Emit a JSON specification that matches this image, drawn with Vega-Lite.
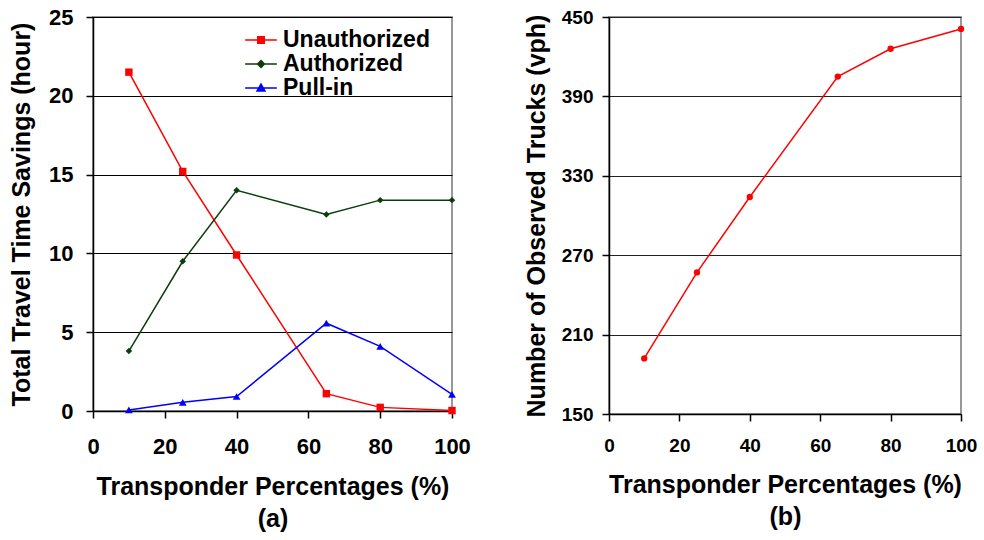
{
  "$schema": "https://vega.github.io/schema/vega-lite/v6.json",
  "autosize": {"type": "pad"},
  "padding": {"left": 8, "top": 5, "right": 5, "bottom": 5},
  "spacing": 51,
  "background": "white",
  "config": {
    "font": "Liberation Sans",
    "view": {"stroke": "#777777", "strokeWidth": 1.5},
    "axis": {
      "labelFont": "Liberation Sans", "labelFontWeight": "bold", "labelColor": "black",
      "titleFont": "Liberation Sans", "titleFontWeight": "bold", "titleColor": "black",
      "domainColor": "black", "domainWidth": 1.5, "tickColor": "black", "tickWidth": 1.5,
      "tickSize": 7, "gridColor": "black", "gridWidth": 1.2, "labelFlush": false, "labelOverlap": false
    },
    "legend": {"labelFont": "Liberation Sans", "labelFontWeight": "bold", "labelColor": "black"}
  },
  "datasets": {
    "a": [
      {"pct": 10, "series": "Unauthorized", "value": 21.5},
      {"pct": 25, "series": "Unauthorized", "value": 15.2},
      {"pct": 40, "series": "Unauthorized", "value": 9.9},
      {"pct": 65, "series": "Unauthorized", "value": 1.1},
      {"pct": 80, "series": "Unauthorized", "value": 0.23},
      {"pct": 100, "series": "Unauthorized", "value": 0.03},
      {"pct": 10, "series": "Authorized", "value": 3.8},
      {"pct": 25, "series": "Authorized", "value": 9.5},
      {"pct": 40, "series": "Authorized", "value": 14.0},
      {"pct": 65, "series": "Authorized", "value": 12.47},
      {"pct": 80, "series": "Authorized", "value": 13.38},
      {"pct": 100, "series": "Authorized", "value": 13.38},
      {"pct": 10, "series": "Pull-in", "value": 0.07},
      {"pct": 25, "series": "Pull-in", "value": 0.55},
      {"pct": 40, "series": "Pull-in", "value": 0.92},
      {"pct": 65, "series": "Pull-in", "value": 5.57},
      {"pct": 80, "series": "Pull-in", "value": 4.1},
      {"pct": 100, "series": "Pull-in", "value": 1.05}
    ],
    "b": [
      {"pct": 10, "trucks": 192},
      {"pct": 25, "trucks": 257},
      {"pct": 40, "trucks": 314},
      {"pct": 65, "trucks": 405},
      {"pct": 80, "trucks": 426},
      {"pct": 100, "trucks": 441}
    ]
  },
  "hconcat": [
    {
      "width": 359,
      "height": 394,
      "data": {"name": "a"},
      "encoding": {
        "x": {
          "field": "pct", "type": "quantitative", "scale": {"domain": [0, 100]},
          "axis": {"values": [0, 20, 40, 60, 80, 100], "grid": false, "title": ["Transponder Percentages (%)", "(a)"],
            "titleFontSize": 25, "labelFontSize": 22, "labelPadding": 18, "titlePadding": 17, "titleLineHeight": 32}
        },
        "y": {
          "field": "value", "type": "quantitative", "scale": {"domain": [0, 25]},
          "axis": {"values": [0, 5, 10, 15, 20, 25], "grid": true, "title": "Total Travel Time Savings (hour)",
            "titleFontSize": 25, "labelFontSize": 22, "labelPadding": 13, "titlePadding": 14}
        },
        "color": {
          "field": "series", "type": "nominal",
          "scale": {"domain": ["Unauthorized", "Authorized", "Pull-in"], "range": ["#ff0000", "#0b3d0b", "#0000ff"]},
          "legend": {
            "title": null, "orient": "none", "legendX": 156.5, "legendY": 11.5,
            "labelFontSize": 23, "symbolSize": 441, "labelOffset": 10.5, "rowPadding": 0, "padding": 0,
            "encode": {
              "symbols": {
                "update": {
                  "shape": {"signal": "datum.value === 'Unauthorized' ? 'M-1.51,0L1.51,0M-0.31,-0.31L0.31,-0.31L0.31,0.31L-0.31,0.31Z' : datum.value === 'Authorized' ? 'M-1.51,0L1.51,0M0,-0.33L0.33,0L0,0.33L-0.33,0Z' : 'M-1.51,0L1.51,0M0,-0.38L0.38,0.29L-0.38,0.29Z'"},
                  "size": {"value": 441},
                  "fill": {"signal": "datum.value === 'Unauthorized' ? '#ff0000' : datum.value === 'Authorized' ? '#0b3d0b' : '#0000ff'"},
                  "stroke": {"signal": "datum.value === 'Unauthorized' ? '#ff0000' : datum.value === 'Authorized' ? '#0b3d0b' : '#0000ff'"},
                  "strokeWidth": {"value": 1.5},
                  "opacity": {"value": 1}
                }
              }
            }
          }
        }
      },
      "layer": [
        {"mark": {"type": "line", "strokeWidth": 1.5}},
        {
          "transform": [{"filter": "datum.series === 'Unauthorized'"}],
          "mark": {"type": "point", "filled": true, "opacity": 1, "size": 55, "shape": "square"}
        },
        {
          "transform": [{"filter": "datum.series === 'Authorized'"}],
          "mark": {"type": "point", "filled": true, "opacity": 1, "size": 42, "shape": "diamond"}
        },
        {
          "transform": [{"filter": "datum.series === 'Pull-in'"}],
          "mark": {"type": "point", "filled": true, "opacity": 1, "size": 60, "shape": "triangle-up"}
        }
      ]
    },
    {
      "width": 352,
      "height": 397,
      "data": {"name": "b"},
      "encoding": {
        "x": {
          "field": "pct", "type": "quantitative", "scale": {"domain": [0, 100]},
          "axis": {"values": [0, 20, 40, 60, 80, 100], "grid": false, "title": ["Transponder Percentages (%)", "(b)"],
            "titleFontSize": 25, "labelFontSize": 19, "labelPadding": 15, "titlePadding": 17, "titleLineHeight": 32}
        },
        "y": {
          "field": "trucks", "type": "quantitative", "scale": {"domain": [150, 450]},
          "axis": {"values": [150, 210, 270, 330, 390, 450], "grid": true, "title": "Number of Observed Trucks (vph)",
            "titleFontSize": 25, "labelFontSize": 19, "labelPadding": 9, "titlePadding": 12, "gridColor": "#222222"}
        }
      },
      "layer": [
        {"mark": {"type": "line", "color": "#ff0000", "strokeWidth": 1.5}},
        {"mark": {"type": "point", "filled": true, "color": "#ff0000", "size": 40, "opacity": 1}}
      ]
    }
  ]
}
